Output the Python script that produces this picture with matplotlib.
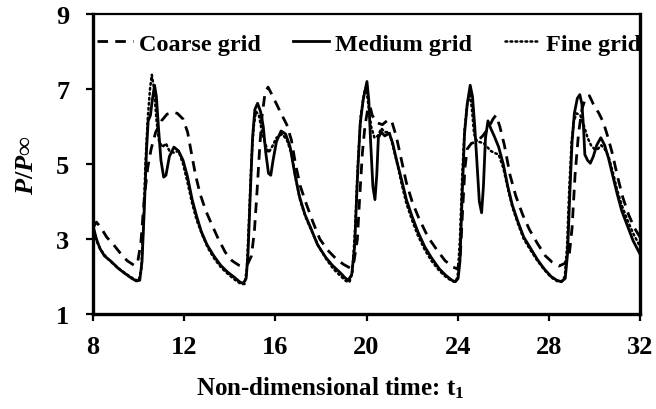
import matplotlib
matplotlib.use("Agg")
import matplotlib.pyplot as plt

plt.rcParams["font.family"] = ["Liberation Serif", "DejaVu Serif"]
plt.rcParams["font.weight"] = "bold"
plt.rcParams["mathtext.fontset"] = "custom"
plt.rcParams["mathtext.rm"] = "Liberation Serif"
plt.rcParams["mathtext.it"] = "Liberation Serif:italic:bold"
plt.rcParams["mathtext.bf"] = "Liberation Serif:bold"

# Medium grid
t_medium = [8.0, 8.15, 8.3, 8.5, 8.8, 9.1, 9.4, 9.7, 9.9, 10.05, 10.15, 10.25, 10.35, 10.42, 10.52,
            10.6, 10.7, 10.78, 10.88, 10.98, 11.1, 11.2, 11.35, 11.55, 11.75, 11.95, 12.15, 12.35,
            12.55, 12.75, 13.0, 13.3, 13.6, 13.9, 14.2, 14.45, 14.6, 14.72, 14.8, 14.9, 15.0, 15.1,
            15.22, 15.35, 15.47, 15.58, 15.7, 15.8, 15.9, 16.05, 16.25, 16.45, 16.65, 16.85, 17.05,
            17.3, 17.55, 17.85, 18.2, 18.5, 18.85, 19.05, 19.2, 19.35, 19.48, 19.6, 19.72, 19.85,
            20.02, 20.1, 20.18, 20.28, 20.37, 20.45, 20.52, 20.65, 20.8, 21.0, 21.15, 21.32, 21.55,
            21.75, 22.0, 22.25, 22.55, 22.85, 23.2, 23.5, 23.75, 23.9, 24.02, 24.1, 24.2, 24.3,
            24.42, 24.55, 24.65, 24.75, 24.85, 24.95, 25.05, 25.13, 25.22, 25.33, 25.45, 25.6, 25.8,
            26.0, 26.2, 26.4, 26.65, 26.9, 27.2, 27.5, 27.8, 28.1, 28.35, 28.55, 28.72, 28.82, 28.92,
            29.02, 29.12, 29.25, 29.36, 29.45, 29.52, 29.58, 29.7, 29.82, 29.95, 30.1, 30.28, 30.45,
            30.62, 30.8, 31.0, 31.2, 31.45, 31.7, 32.0]
p_medium = [3.35, 3.0, 2.75, 2.55, 2.4, 2.22, 2.08, 1.95, 1.88, 1.9, 2.4, 3.8, 5.4, 6.15, 6.3,
            6.7, 7.1, 6.8, 5.9, 5.1, 4.65, 4.7, 5.2, 5.45, 5.35, 5.1, 4.65, 4.05,
            3.6, 3.2, 2.85, 2.55, 2.3, 2.12, 1.98, 1.85, 1.82, 1.95, 2.6, 4.2, 5.7, 6.45,
            6.62, 6.4, 6.0, 5.3, 4.75, 4.7, 5.1, 5.6, 5.88, 5.8, 5.45, 4.75, 4.15,
            3.65, 3.3, 2.85, 2.52, 2.3, 2.1, 1.97, 1.9, 2.05, 2.8, 4.6, 6.05, 6.7,
            7.2, 6.7, 5.6, 4.4, 4.05, 4.7, 5.7, 5.85, 5.75, 5.82, 5.55, 5.1, 4.55,
            4.05, 3.6, 3.2, 2.8, 2.5, 2.2, 2.02, 1.9, 1.86, 1.95, 2.4, 4.2, 5.8,
            6.6, 7.1, 6.8, 6.0, 5.0, 4.0, 3.7, 4.4, 5.7, 6.15, 5.95, 5.75, 5.45,
            5.0, 4.4, 3.9, 3.45, 3.05, 2.75, 2.45, 2.2, 2.0, 1.9, 1.86, 1.95, 2.6, 4.2,
            5.6, 6.35, 6.75, 6.85, 6.6, 6.0, 5.25, 5.1, 5.02, 5.2, 5.5, 5.7, 5.5,
            5.15, 4.7, 4.2, 3.75, 3.35, 2.95, 2.6]

# Coarse grid
t_coarse = [8.0, 8.15, 8.35, 8.6, 8.9, 9.2, 9.5, 9.8, 9.95, 10.1, 10.25, 10.4, 10.55, 10.75, 11.0,
            11.25, 11.5, 11.7, 11.95, 12.15, 12.3, 12.5, 12.7, 12.95, 13.2, 13.5, 13.8, 14.1, 14.4,
            14.6, 14.8, 14.95, 15.08, 15.2, 15.32, 15.42, 15.55, 15.68, 15.85, 16.05, 16.25, 16.5,
            16.7, 16.9, 17.1, 17.35, 17.65, 17.95, 18.3, 18.7, 19.0, 19.3, 19.45, 19.6, 19.7, 19.82,
            19.93, 20.05, 20.15, 20.25, 20.45, 20.7, 20.95, 21.1, 21.3, 21.5, 21.75, 22.0, 22.3,
            22.7, 23.1, 23.45, 23.8, 24.0, 24.12, 24.22, 24.32, 24.42, 24.6, 24.85, 25.1, 25.35,
            25.55, 25.68, 25.85, 26.05, 26.3, 26.55, 26.85, 27.15, 27.5, 27.85, 28.15, 28.45, 28.7,
            28.9, 29.02, 29.15, 29.3, 29.45, 29.6, 29.78, 29.95, 30.2, 30.4, 30.6, 30.8, 31.0,
            31.25, 31.5, 31.75, 32.0]
p_coarse = [3.3, 3.45, 3.3, 3.05, 2.85, 2.62, 2.42, 2.3, 2.35, 2.9, 4.1, 4.9, 5.4, 5.85, 6.15,
            6.33, 6.38, 6.35, 6.2, 5.85, 5.35, 4.7, 4.2, 3.75, 3.4, 3.0, 2.65, 2.42, 2.3,
            2.27, 2.35, 2.55, 3.2, 4.3, 5.5, 6.3, 6.9, 7.05, 6.85, 6.6, 6.35, 6.05,
            5.65, 4.95, 4.4, 3.95, 3.45, 3.0, 2.7, 2.45, 2.32, 2.22, 2.4, 3.0, 4.1, 5.3,
            6.0, 6.45, 6.55, 6.3, 6.1, 6.05, 6.18, 6.15, 5.75, 5.2, 4.5, 4.0, 3.55,
            3.05, 2.7, 2.42, 2.25, 2.2, 2.6, 3.8, 4.9, 5.4, 5.55, 5.6, 5.75, 5.95,
            6.2, 6.3, 6.0, 5.5, 4.7, 4.15, 3.65, 3.25, 2.88, 2.55, 2.38, 2.28, 2.35,
            2.6, 3.3, 4.7, 5.8, 6.45, 6.75, 6.82, 6.6, 6.35, 6.1, 5.7, 5.25, 4.7,
            4.1, 3.65, 3.3, 3.05]

# Fine grid
t_fine = [8.0, 8.15, 8.35, 8.6, 8.9, 9.2, 9.5, 9.8, 10.0, 10.12, 10.22, 10.3, 10.4, 10.5, 10.58,
          10.68, 10.78, 10.9, 11.05, 11.2, 11.35, 11.55, 11.75, 11.95, 12.15, 12.35, 12.55, 12.8,
          13.05, 13.35, 13.65, 13.95, 14.25, 14.5, 14.65, 14.75, 14.85, 14.95, 15.05, 15.15, 15.28,
          15.4, 15.55, 15.7, 15.85, 16.05, 16.3, 16.5, 16.7, 16.9, 17.1, 17.35, 17.6, 17.9, 18.25,
          18.55, 18.85, 19.1, 19.25, 19.38, 19.5, 19.62, 19.75, 19.9, 19.98, 20.08, 20.2, 20.35,
          20.5, 20.65, 20.8, 21.0, 21.15, 21.35, 21.55, 21.75, 22.0, 22.25, 22.55, 22.85, 23.2,
          23.5, 23.75, 23.9, 24.0, 24.1, 24.2, 24.3, 24.42, 24.52, 24.62, 24.72, 24.85, 25.0,
          25.15, 25.3, 25.45, 25.6, 25.8, 26.0, 26.2, 26.4, 26.65, 26.9, 27.2, 27.5, 27.8, 28.1,
          28.35, 28.55, 28.7, 28.8, 28.9, 29.0, 29.1, 29.22, 29.38, 29.55, 29.7, 29.85, 30.0,
          30.15, 30.3, 30.45, 30.62, 30.8, 31.0, 31.2, 31.45, 31.7, 32.0]
p_fine = [3.3, 2.95, 2.7, 2.5, 2.33, 2.18, 2.05, 1.93, 1.88, 2.2, 3.5, 5.0, 6.2, 7.0, 7.38,
          7.0, 6.2, 5.6, 5.45, 5.55, 5.35, 5.3, 5.35, 5.0, 4.5, 3.95, 3.5, 3.1,
          2.75, 2.45, 2.22, 2.05, 1.9, 1.8, 1.8, 2.2, 3.6, 5.1, 6.0, 6.4, 6.3,
          5.9, 5.55, 5.3, 5.45, 5.7, 5.8, 5.65, 5.3, 4.6, 4.0, 3.55, 3.2, 2.8, 2.45,
          2.2, 2.02, 1.88, 1.85, 2.1, 3.3, 5.0, 6.3, 6.9, 7.05, 6.6, 6.0, 5.7,
          5.75, 5.95, 5.85, 5.85, 5.5, 5.0, 4.45, 3.95, 3.5, 3.1, 2.72, 2.42, 2.15,
          1.98, 1.88, 1.85, 2.0, 3.0, 4.7, 5.9, 6.6, 6.9, 6.5, 5.8, 5.6, 5.58,
          5.55, 5.45, 5.35, 5.3, 5.25, 4.9, 4.35, 3.85, 3.4, 3.0, 2.7, 2.42, 2.18, 1.98,
          1.88, 1.86, 2.0, 2.8, 4.4, 5.6, 6.15, 6.35, 6.3, 6.0, 5.7, 5.5, 5.4,
          5.4, 5.5, 5.4, 5.2, 4.8, 4.3, 3.9, 3.5, 3.15, 2.8]

x_ticks = [8, 12, 16, 20, 24, 28, 32]
y_ticks = [1, 3, 5, 7, 9]

fig = plt.figure(figsize=(6.56, 4.10), dpi=100)
ax = fig.add_axes([0.1418, 0.2317, 0.8338, 0.7317])

ax.plot(t_coarse, p_coarse, color="black", lw=2.0, linestyle=(0, (3.8, 2.6)),
        label="Coarse grid")
ax.plot(t_medium, p_medium, color="black", lw=2.0, linestyle="-", label="Medium grid")
ax.plot(t_fine, p_fine, color="black", lw=1.8, linestyle=(0, (0.7, 1.3)),
        dash_capstyle="round", label="Fine grid")

ax.set_xlim(8, 32)
ax.set_ylim(1, 9)
ax.set_xticks(x_ticks)
ax.set_yticks(y_ticks)
ax.tick_params(direction="out", length=5, width=1.6, labelsize=19)
ax.tick_params(axis="y", pad=12)
ax.tick_params(axis="x", pad=10)
for lab in ax.get_xticklabels() + ax.get_yticklabels():
    lab.set_fontweight("bold")

ax.spines["left"].set_linewidth(2.4)
ax.spines["bottom"].set_linewidth(2.4)
ax.spines["top"].set_linewidth(1.6)
ax.spines["right"].set_linewidth(2.4)

ax.set_xlabel(r"Non-dimensional time: t$_\mathbf{1}$", fontsize=18, fontweight="bold")
ax.xaxis.set_label_coords(0.433, -0.2)
ax.set_ylabel(r"$P$/$P$∞", fontsize=19, fontweight="bold", labelpad=13)

ax.legend(loc="upper center", bbox_to_anchor=(0.505, 0.995), ncol=3, frameon=False,
          prop={"weight": "bold", "size": 17.5}, handlelength=1.45, handletextpad=0.25,
          columnspacing=1.35, borderaxespad=0.3)

fig.savefig("out.png", dpi=100)
